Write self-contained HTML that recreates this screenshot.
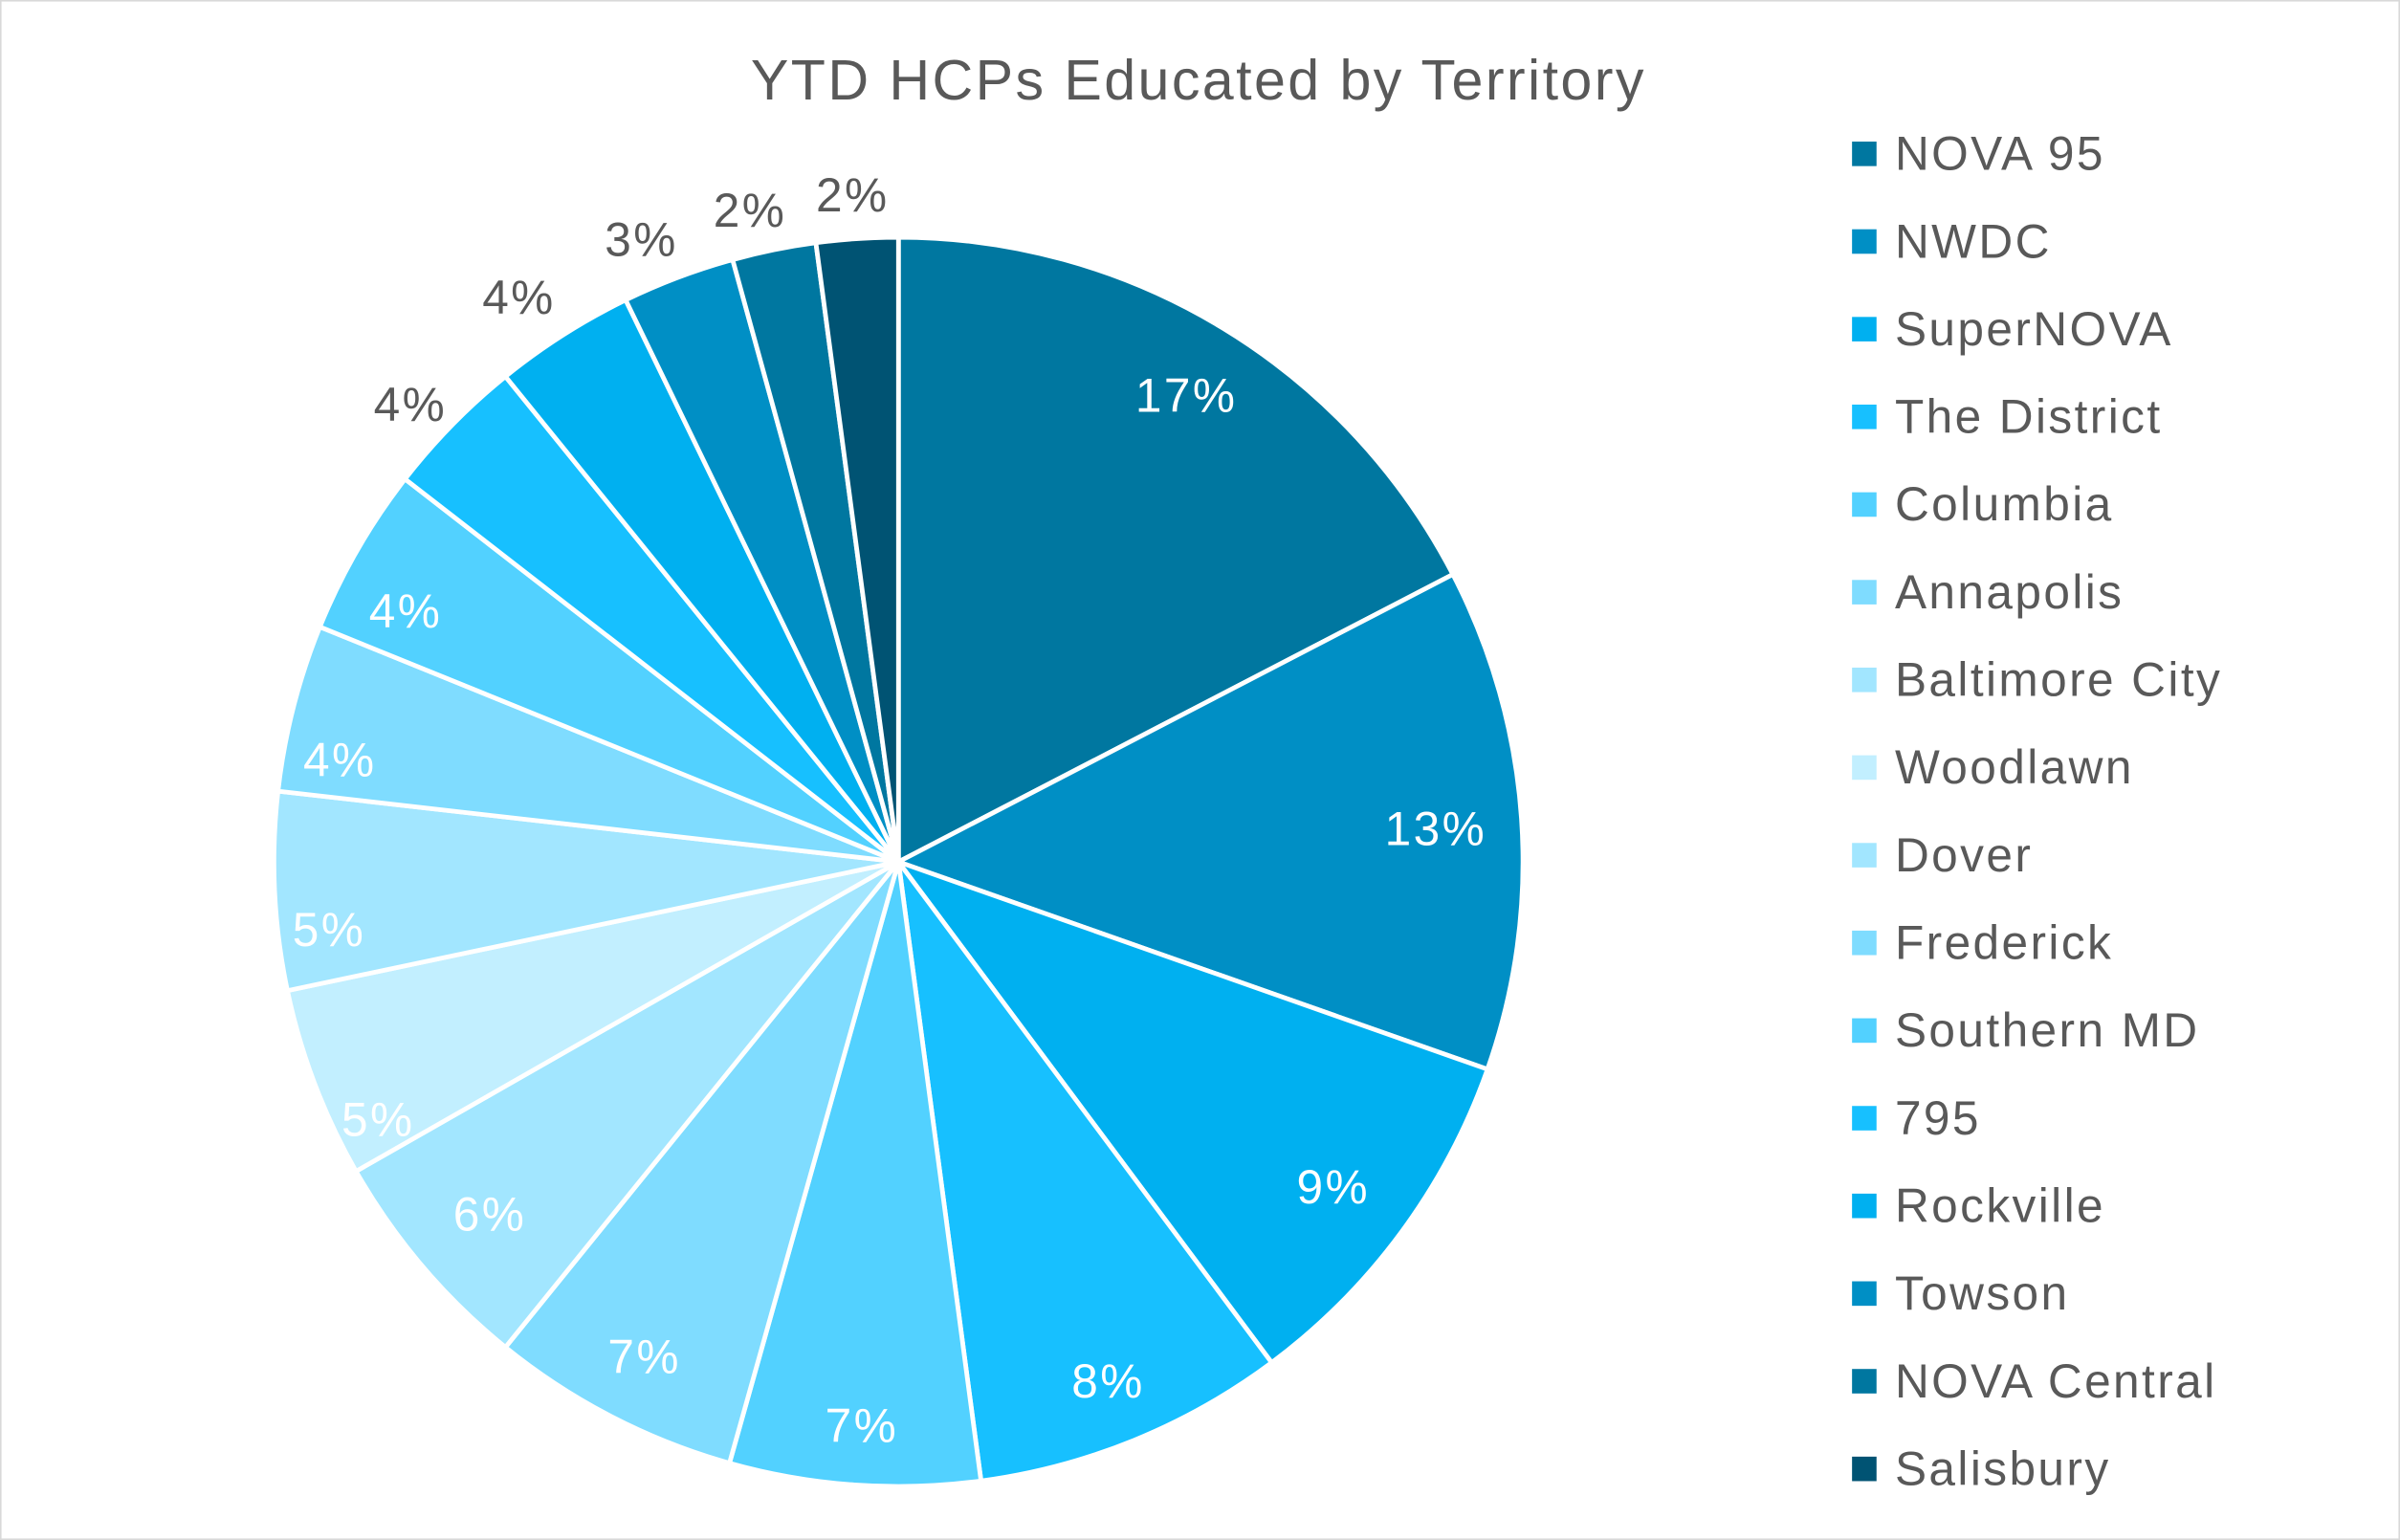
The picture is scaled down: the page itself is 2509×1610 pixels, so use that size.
<!DOCTYPE html>
<html><head><meta charset="utf-8"><style>
html,body{margin:0;padding:0;background:#fff}
svg{display:block}
text{font-family:"Liberation Sans",sans-serif;fill:#595959;letter-spacing:1.5px}
</style></head><body>
<svg id="s" width="2509" height="1610" viewBox="0 0 1568 1006" preserveAspectRatio="none" xmlns="http://www.w3.org/2000/svg">
<rect x="0.5" y="0.5" width="1567" height="1005" fill="#fff" stroke="#d9d9d9" stroke-width="1"/>
<text x="783" y="65" font-size="37" text-anchor="middle">YTD HCPs Educated by Territory</text>
<g id="pie"></g>
<g id="lab" font-size="31"></g>
<g id="leg" font-size="31"></g>
</svg>
<script>
var cx=587,cy=563,r=408;
var b=[0,62.6,109.4,143.3,172.4,195.7,219,240.3,258.1,276.5,292.1,307.8,321,334.1,344.6,352.4,360];
var cols=["#0077A0","#008FC5","#00B0F0","#17C0FF","#52D1FF","#7FDCFF","#A2E6FF","#C2EFFF","#A2E6FF","#7FDCFF","#52D1FF","#17C0FF","#00B0F0","#008FC5","#0077A0","#005373"];
var names=["NOVA 95","NWDC","SuperNOVA","The District","Columbia","Annapolis","Baltimore City","Woodlawn","Dover","Frederick","Southern MD","795","Rockville","Towson","NOVA Central","Salisbury"];
var labs=[["17%",775,258,"#fff"],["13%",938,541,"#fff"],["9%",871,775,"#fff"],["8%",724,902,"#fff"],["7%",563,931,"#fff"],["7%",421,886,"#fff"],["6%",320,793,"#fff"],["5%",247,731,"#fff"],["5%",215,607,"#fff"],["4%",222,496,"#fff"],["4%",265,399,"#fff"],["4%",268,264,"#595959"],["4%",339,194,"#595959"],["3%",419,156,"#595959"],["2%",490,137,"#595959"],["2%",557,127,"#595959"]];
function pt(a){a=a*Math.PI/180;return [cx+r*Math.sin(a),cy-r*Math.cos(a)];}
var ns="http://www.w3.org/2000/svg",pie=document.getElementById("pie"),lab=document.getElementById("lab"),leg=document.getElementById("leg");
for(var i=0;i<16;i++){
 var p1=pt(b[i]),p2=pt(b[i+1]),large=(b[i+1]-b[i])>180?1:0;
 var e=document.createElementNS(ns,"path");
 e.setAttribute("d","M"+cx+","+cy+"L"+p1[0]+","+p1[1]+"A"+r+","+r+" 0 "+large+" 1 "+p2[0]+","+p2[1]+"Z");
 e.setAttribute("fill",cols[i]);e.setAttribute("stroke","#fff");e.setAttribute("stroke-width","3");e.setAttribute("stroke-linejoin","round");
 pie.appendChild(e);
 var t=document.createElementNS(ns,"text");t.textContent=labs[i][0];
 t.setAttribute("x",labs[i][1]);t.setAttribute("y",labs[i][2]+11);t.setAttribute("text-anchor","middle");t.setAttribute("style","fill:"+labs[i][3]);
 lab.appendChild(t);
 var y=100+i*57.27;
 var q=document.createElementNS(ns,"rect");q.setAttribute("x",1210);q.setAttribute("y",y-7.5);q.setAttribute("width",16);q.setAttribute("height",16);q.setAttribute("fill",cols[i]);leg.appendChild(q);
 var u=document.createElementNS(ns,"text");u.textContent=names[i];u.setAttribute("x",1238);u.setAttribute("y",y+11);leg.appendChild(u);
}
</script>
</body></html>
